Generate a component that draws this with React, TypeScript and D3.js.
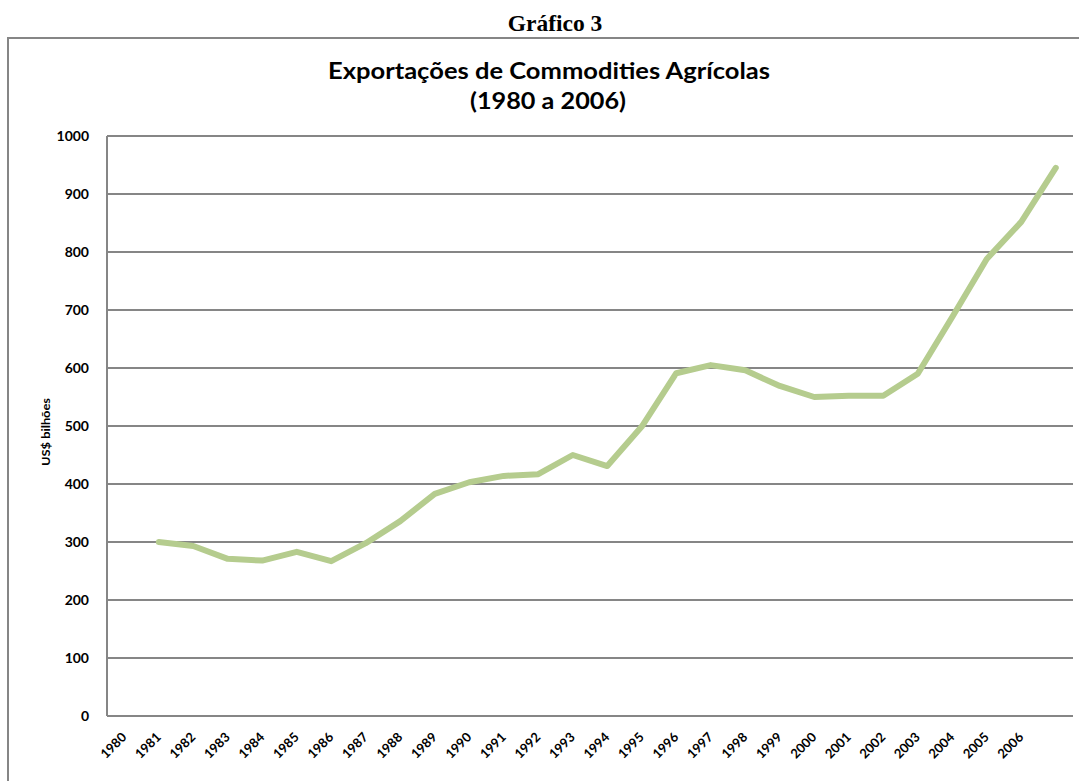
import * as d3 from "d3";

// dados do gráfico (US$ bilhões)
const years = d3.range(1980, 2007).map(String);
const exports = [
  300, 293, 271, 268, 283, 267, 298, 336, 383, 403, 414, 417, 450, 431, 499,
  591, 605, 596, 569, 550, 552, 552, 590, 688, 788, 852, 945,
];
const yTicks = [0, 100, 200, 300, 400, 500, 600, 700, 800, 900, 1000];

const width = 1079;
const height = 781;
const plot = { left: 107, right: 1073, top: 136, bottom: 716 };
const grid = "#868686";
const lineColor = "#b5cc8e";
const sans = "Lato, 'Open Sans', sans-serif";

export default function App() {
  // Excel category axis: 28 slots, labels in slots 0..26, data in slots 1..27
  const slots = d3.range(years.length + 1);
  const x = d3
    .scalePoint<number>()
    .domain(slots)
    .range([plot.left, plot.right])
    .padding(0.5);
  const y = d3.scaleLinear().domain([0, 1000]).range([plot.bottom, plot.top]);

  const line = d3
    .line<number>()
    .x((_, i) => x(i + 1) as number)
    .y((d) => y(d));

  return (
    <svg
      width={width}
      height={height}
      style={{ position: "absolute", left: 0, top: 0, background: "#fff" }}
    >
      <text
        x={555}
        y={31}
        textAnchor="middle"
        fontFamily="Liberation Serif"
        fontWeight="bold"
        fontSize={23.5}
      >
        Gráfico 3
      </text>
      <rect
        x={8}
        y={38}
        width={1100}
        height={800}
        fill="none"
        stroke={grid}
        strokeWidth={2}
      />
      <g fontFamily={sans} fontWeight="bold" textAnchor="middle" fill="#000">
        <text x={549} y={79} fontSize={23} textLength={442} lengthAdjust="spacingAndGlyphs">
          Exportações de Commodities Agrícolas
        </text>
        <text x={548} y={109} fontSize={23} textLength={156} lengthAdjust="spacingAndGlyphs">
          (1980 a 2006)
        </text>
      </g>

      {yTicks.map((t) => (
        <g key={t}>
          <line
            x1={plot.left}
            x2={plot.right}
            y1={y(t)}
            y2={y(t)}
            stroke={grid}
            strokeWidth={2}
          />
          <text
            x={89}
            y={y(t)}
            dy="0.35em"
            textAnchor="end"
            fontFamily={sans}
            fontWeight="bold"
            fontSize={14}
          >
            {t}
          </text>
        </g>
      ))}
      <line
        x1={plot.left}
        x2={plot.left}
        y1={plot.top}
        y2={plot.bottom}
        stroke={grid}
        strokeWidth={2}
      />

      <text
        transform="translate(50, 432) rotate(-90)"
        textAnchor="middle"
        fontFamily={sans}
        fontWeight="bold"
        fontSize={11}
        textLength={68}
        lengthAdjust="spacingAndGlyphs"
      >
        US$ bilhões
      </text>

      {years.map((yr, i) => (
        <text
          key={yr}
          transform={`translate(${(x(i) as number) + 3}, ${plot.bottom + 22}) rotate(-45)`}
          textAnchor="end"
          fontFamily={sans}
          fontWeight="bold"
          fontSize={13}
        >
          {yr}
        </text>
      ))}

      <path
        d={line(exports) ?? ""}
        fill="none"
        stroke={lineColor}
        strokeWidth={6}
        strokeLinejoin="round"
        strokeLinecap="round"
      />
    </svg>
  );
}
